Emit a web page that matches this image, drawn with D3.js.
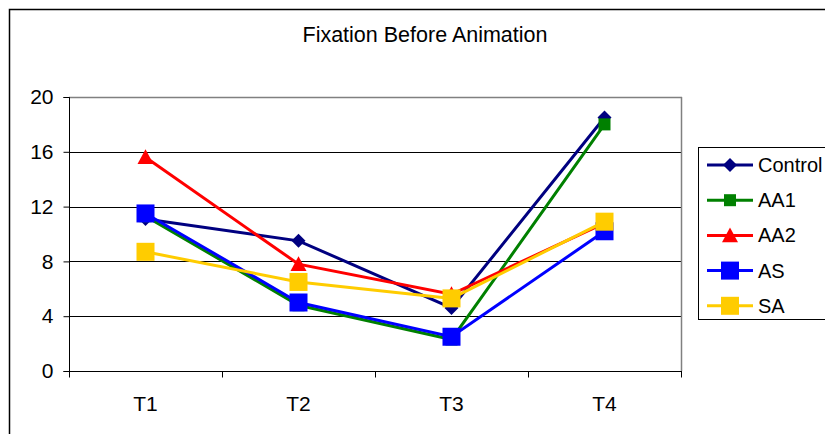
<!DOCTYPE html>
<html>
<head>
<meta charset="utf-8">
<script src="https://cdn.jsdelivr.net/npm/d3@7/dist/d3.min.js"></script>
<style>
  html, body { margin: 0; padding: 0; background: #fff; }
  svg { display: block; font-family: "Liberation Sans", Arial, sans-serif; }
</style>
</head>
<body>
<svg id="chart" width="825" height="434"></svg>
<script>
// Fixation counts per time point, one array per group
const categories = ["T1", "T2", "T3", "T4"];
const control = [11.1, 9.5, 4.6, 18.5];
const aa1 = [11.3, 4.8, 2.3, 18.0];
const aa2 = [15.6, 7.8, 5.6, 10.8];
const as = [11.5, 5.0, 2.5, 10.2];
const sa = [8.7, 6.5, 5.3, 10.9];
const yTicks = [0, 4, 8, 12, 16, 20];

const series = [
  { name: "Control", values: control, color: "#000080", shape: "diamond", size: 14 },
  { name: "AA1", values: aa1, color: "#008000", shape: "square", size: 12 },
  { name: "AA2", values: aa2, color: "#FF0000", shape: "triangle", size: 16 },
  { name: "AS", values: as, color: "#0000FF", shape: "square", size: 18 },
  { name: "SA", values: sa, color: "#FFCC00", shape: "square", size: 18 }
];

const svg = d3.select("#chart");
const plot = { left: 69, right: 681, top: 97, bottom: 371 };

// outer chart frame
svg.append("rect")
  .attr("x", 9.5).attr("y", 9.5)
  .attr("width", 900).attr("height", 500)
  .attr("fill", "#fff").attr("stroke", "#000").attr("stroke-width", 1.5);

svg.append("text")
  .attr("x", 425).attr("y", 42)
  .attr("text-anchor", "middle")
  .attr("font-size", 21.5)
  .text("Fixation Before Animation");

const x = d3.scaleBand().domain(categories).range([plot.left, plot.right]);
const y = d3.scaleLinear().domain([0, 20]).range([plot.bottom, plot.top]);

// gridlines
svg.append("g").selectAll("line").data(yTicks.filter(t => t > 0)).join("line")
  .attr("x1", plot.left).attr("x2", plot.right)
  .attr("y1", d => Math.round(y(d)) + 0.5).attr("y2", d => Math.round(y(d)) + 0.5)
  .attr("stroke", "#000").attr("stroke-width", 1);

// plot area right edge and top
svg.append("line")
  .attr("x1", plot.right + 0.5).attr("x2", plot.right + 0.5)
  .attr("y1", plot.top).attr("y2", plot.bottom)
  .attr("stroke", "#808080").attr("stroke-width", 1.5);
svg.append("line")
  .attr("x1", plot.left).attr("x2", plot.right + 1)
  .attr("y1", Math.round(y(20)) + 0.5).attr("y2", Math.round(y(20)) + 0.5)
  .attr("stroke", "#808080").attr("stroke-width", 1.5);

// y axis
const yAxis = svg.append("g")
  .attr("transform", `translate(${plot.left + 0.5},0)`)
  .call(d3.axisLeft(y).tickValues(yTicks).tickSize(6).tickPadding(10));
yAxis.selectAll("text").attr("font-size", 21).attr("fill", "#000").attr("font-family", "Liberation Sans, Arial, sans-serif");
yAxis.selectAll("line, path").attr("stroke", "#000");
yAxis.select(".domain").attr("d", `M-6,${Math.round(y(20)) + 0.5}H0V${Math.round(y(0)) + 0.5}H-6`);

// x axis with ticks on category boundaries
const xAxisG = svg.append("g").attr("transform", `translate(0,${Math.round(y(0)) + 0.5})`);
xAxisG.append("line")
  .attr("x1", plot.left).attr("x2", plot.right + 1)
  .attr("stroke", "#000").attr("stroke-width", 1.2);
const bounds = categories.map(c => x(c)).concat([x(categories[categories.length - 1]) + x.bandwidth()]);
xAxisG.selectAll(".tk").data(bounds).join("line")
  .attr("x1", d => Math.round(d) + 0.5).attr("x2", d => Math.round(d) + 0.5)
  .attr("y1", 0).attr("y2", 6)
  .attr("stroke", "#000");
xAxisG.selectAll(".lbl").data(categories).join("text")
  .attr("x", d => x(d) + x.bandwidth() / 2)
  .attr("y", 39)
  .attr("text-anchor", "middle")
  .attr("font-size", 21)
  .text(d => d);

const cx = (i) => x(categories[i]) + x.bandwidth() / 2;

function drawMarker(g, shape, size, color) {
  const h = size / 2;
  if (shape === "square") {
    g.append("rect").attr("x", -h).attr("y", -h).attr("width", size).attr("height", size).attr("fill", color);
  } else if (shape === "diamond") {
    g.append("path").attr("d", `M0,${-h}L${h},0L0,${h}L${-h},0Z`).attr("fill", color);
  } else if (shape === "triangle") {
    g.append("path").attr("d", `M0,${-h}L${h},${h * 0.85}L${-h},${h * 0.85}Z`).attr("fill", color);
  }
}

const line = d3.line().x((d, i) => cx(i)).y(d => y(d));

series.forEach(s => {
  const g = svg.append("g");
  g.append("path").datum(s.values)
    .attr("d", line).attr("fill", "none")
    .attr("stroke", s.color).attr("stroke-width", 3);
  s.values.forEach((v, i) => {
    const m = g.append("g").attr("transform", `translate(${cx(i)},${y(v)})`);
    drawMarker(m, s.shape, s.size, s.color);
  });
});

// legend
const leg = svg.append("g");
leg.append("rect")
  .attr("x", 698.5).attr("y", 147.5).attr("width", 200).attr("height", 172)
  .attr("fill", "#fff").attr("stroke", "#000").attr("stroke-width", 1);
series.forEach((s, i) => {
  const ly = 165 + i * 35.2;
  leg.append("line").attr("x1", 707).attr("x2", 753).attr("y1", ly).attr("y2", ly)
    .attr("stroke", s.color).attr("stroke-width", 3);
  const m = leg.append("g").attr("transform", `translate(730,${ly})`);
  drawMarker(m, s.shape, s.size, s.color);
  leg.append("text").attr("x", 758).attr("y", ly + 7).attr("font-size", 20).text(s.name);
});
</script>
</body>
</html>
